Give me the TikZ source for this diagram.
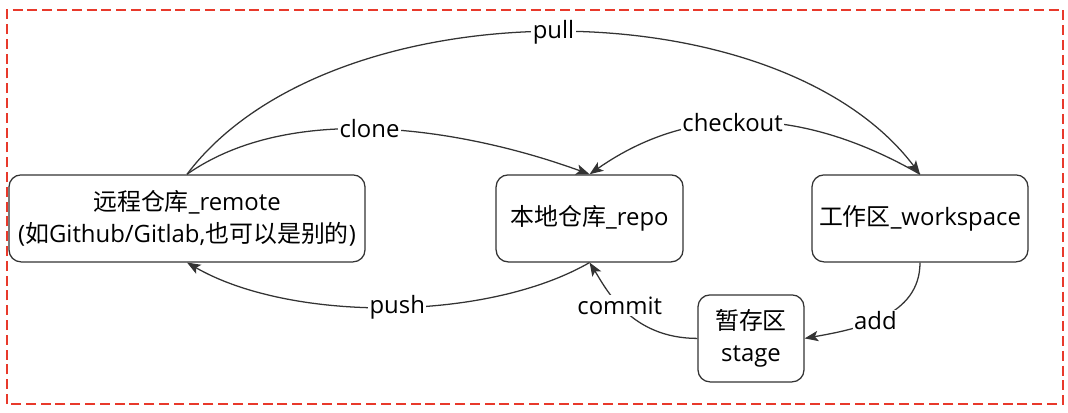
\documentclass[tikz,border=0pt]{standalone}
\usepackage{fontspec}
\setmainfont{Open Sans}
\newfontfamily\cjk{Noto Sans CJK SC}
\newcommand{\zh}[1]{{\cjk #1}}
\usetikzlibrary{arrows.meta}
\definecolor{linegray}{HTML}{333333}
\definecolor{framered}{HTML}{E8392B}

\begin{document}
\begin{tikzpicture}[
  font=\fontsize{17}{23}\selectfont,
  box/.style={draw=linegray,line width=0.9pt,rounded corners=0.3cm,align=center,minimum height=2.175cm},
  flow/.style={linegray,line width=0.9pt,-{Stealth[length=0.34cm,width=0.26cm,inset=0.08cm]}},
  lbl/.style={fill=white,inner sep=1pt,text=black}
]
\useasboundingbox (0,0) rectangle (26.7,10.3);
\draw [framered,line width=1.1pt,dash pattern=on 0.25cm off 0.12cm] (0.175,0.2) rectangle (26.575,10.05);

\node (remote) at (4.675,4.84) [box,minimum width=8.9cm] {\zh{远程仓库}\_remote\\(\zh{如}Github/Gitlab,\zh{也可以是别的})};
\node (repo) at (14.74,4.84) [box,minimum width=4.675cm] {\zh{本地仓库}\_repo};
\node (work) at (23,4.84) [box,minimum width=5.4cm] {\zh{工作区}\_workspace};
\node (stage) at (18.775,1.84) [box,minimum width=2.65cm] {\zh{暂存区}\\stage};

\draw [flow] (remote.north) to[out=53,in=127,looseness=0.83] node [lbl] {pull} (work.north);
\draw [flow] (remote.north) to[out=35,in=160,looseness=0.83] node [lbl,pos=0.47] {clone} (repo.north);
\draw [flow] (work.north) to[out=150,in=35,looseness=1] node [lbl,pos=0.56] {checkout} (repo.north);
\draw [flow] (repo.south) to[out=210,in=-30,looseness=0.76] node [lbl,pos=0.48] {push} (remote.south);
\draw [flow] (stage.west) to[out=180,in=-58,out looseness=1.3,in looseness=0.6] node [lbl,pos=0.55] {commit} (repo.south);
\draw [flow] (work.south) to[out=-90,in=10,looseness=1] node [lbl,pos=0.55] {add} (stage.east);

\end{tikzpicture}
\end{document}
